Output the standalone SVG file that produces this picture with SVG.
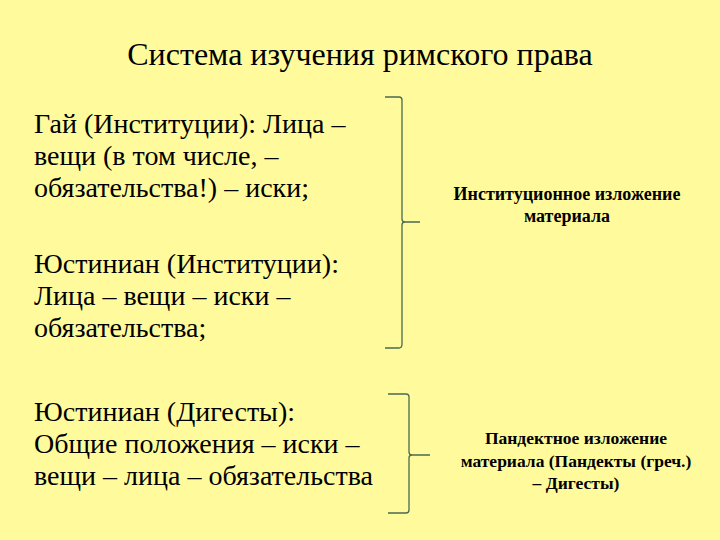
<svg xmlns="http://www.w3.org/2000/svg" width="720" height="540" viewBox="0 0 720 540">
<defs>
<style>
.br{fill:none;stroke:#4a6a50;stroke-width:1.3}
</style>
</defs>
<rect width="720" height="540" fill="#FFFB9C"/>
<g id="title">
<text x="360" y="65" font-family="Liberation Serif" font-size="32" text-anchor="middle">Система изучения римского права</text>
</g>
<g id="gai">
<text x="34" y="133" font-family="Liberation Serif" font-size="28">Гай (Институции): Лица –</text>
<text x="34" y="165" font-family="Liberation Serif" font-size="28">вещи (в том числе, –</text>
<text x="34" y="197" font-family="Liberation Serif" font-size="28">обязательства!) – иски;</text>
</g>
<g id="justinian-inst">
<text x="34" y="273" font-family="Liberation Serif" font-size="28">Юстиниан (Институции):</text>
<text x="34" y="305" font-family="Liberation Serif" font-size="28">Лица – вещи – иски –</text>
<text x="34" y="337" font-family="Liberation Serif" font-size="28">обязательства;</text>
</g>
<g id="justinian-dig">
<text x="34" y="421" font-family="Liberation Serif" font-size="28">Юстиниан (Дигесты):</text>
<text x="34" y="453" font-family="Liberation Serif" font-size="28">Общие положения – иски –</text>
<text x="34" y="485" font-family="Liberation Serif" font-size="28">вещи – лица – обязательства</text>
</g>
<g id="inst-method">
<text x="567" y="200" font-family="Liberation Serif" font-size="18" font-weight="bold" text-anchor="middle">Институционное изложение</text>
<text x="567" y="222" font-family="Liberation Serif" font-size="18" font-weight="bold" text-anchor="middle">материала</text>
</g>
<g id="pand-method">
<text x="576" y="444" font-family="Liberation Serif" font-size="17.5" font-weight="bold" text-anchor="middle">Пандектное изложение</text>
<text x="576" y="467" font-family="Liberation Serif" font-size="17.5" font-weight="bold" text-anchor="middle">материала (Пандекты (греч.)</text>
<text x="576" y="489" font-family="Liberation Serif" font-size="17.5" font-weight="bold" text-anchor="middle">– Дигесты)</text>
</g>
<g id="connectors">
<path class="br" d="M385,97 L399,97 Q402,97 402,100 L402,219 Q402,222 405,222 L420,222 M405,222 Q402,222 402,225 L402,344 Q402,348 399,348 L385,348"/>
<path class="br" d="M388,394 L406,394 Q409,394 409,397 L409,452 Q409,455 412,455 L430,455 M412,455 Q409,455 409,458 L409,510 Q409,513 406,513 L388,513"/>
</g>
</svg>
